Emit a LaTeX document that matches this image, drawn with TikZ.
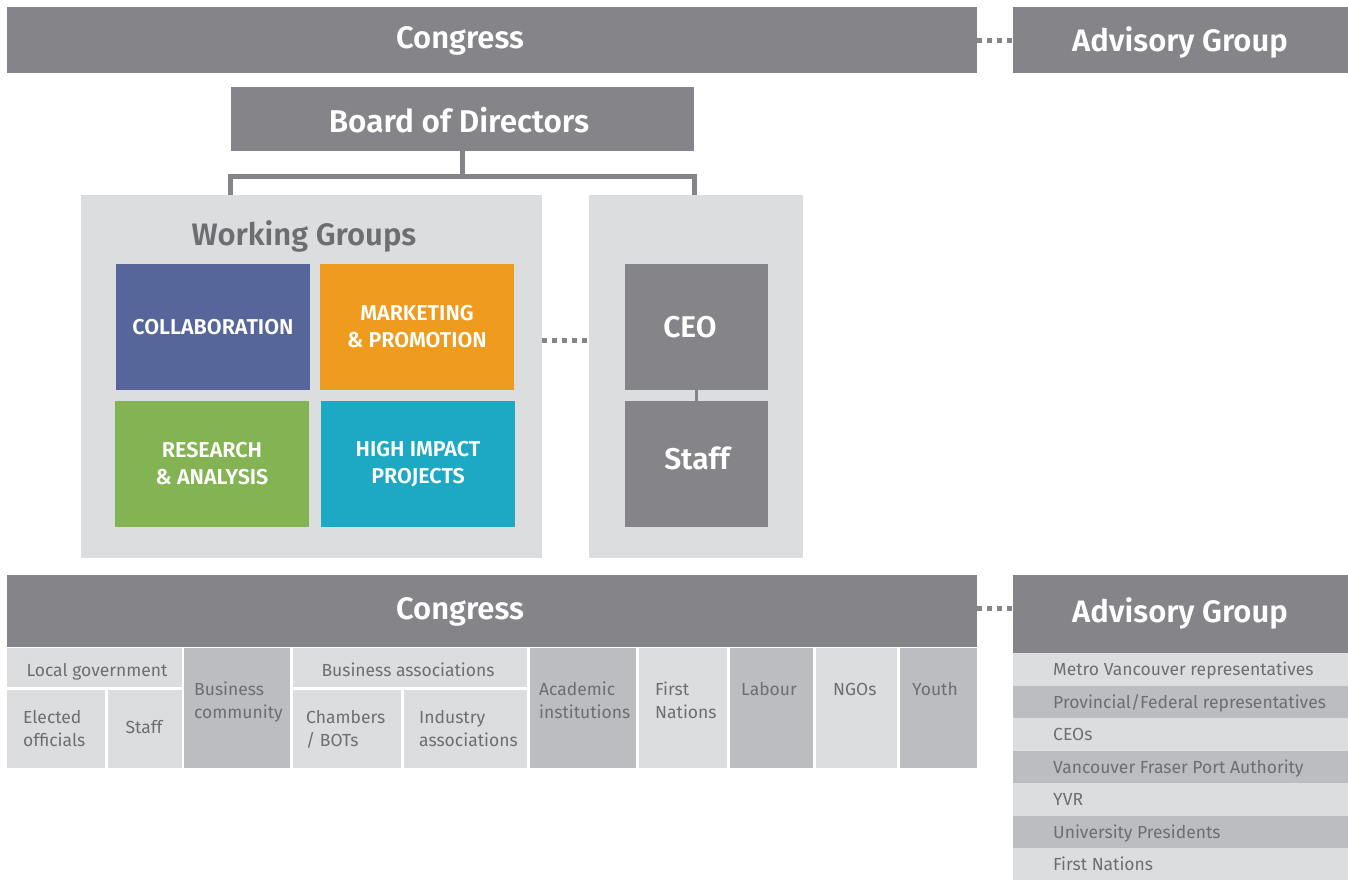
\documentclass[tikz,border=0pt]{standalone}
\usepackage{fontspec}
\setmainfont{Fira Sans}[BoldFont={Fira Sans SemiBold}]
\definecolor{bargray}{RGB}{133,132,137}
\definecolor{panelgray}{RGB}{220,221,223}
\definecolor{cellgray}{RGB}{188,189,192}
\definecolor{textgray}{RGB}{109,110,113}
\definecolor{wgblue}{RGB}{87,102,154}
\definecolor{wgorange}{RGB}{238,155,30}
\definecolor{wggreen}{RGB}{132,179,83}
\definecolor{wgteal}{RGB}{29,168,195}

\begin{document}
\begin{tikzpicture}[x=1pt,y=-1pt]

\tikzset{bar/.style = {fill=bargray, inner sep=0}}
\tikzset{title/.style = {text=white, inner sep=0, anchor=base, font=\bfseries\fontsize{31}{36}\selectfont}}
\tikzset{panel/.style = {fill=panelgray, inner sep=0}}
\tikzset{group/.style = {text=white, inner sep=0, minimum width=194, minimum height=126, align=center, font=\bfseries\fontsize{21.5}{27}\selectfont}}
\tikzset{cell/.style = {fill=panelgray, inner sep=0}}
\tikzset{cellb/.style = {cell, fill=cellgray}}
\tikzset{txt/.style = {text=textgray, inner sep=0, align=left, anchor=base west, font=\fontsize{17.5}{23}\selectfont}}
\tikzset{tree/.style = {draw=bargray, line width=5}}
\tikzset{dots/.style = {draw=bargray, line width=5, dash pattern=on 5 off 5}}

\useasboundingbox (0,0) rectangle (1348,879);

%top bars
\node[bar, minimum width=970, minimum height=66] (congress) at (492,40) {};
\node[bar, minimum width=335, minimum height=66] (adv) at (1180.5,40) {};
\node[bar, minimum width=463, minimum height=64] (board) at (462.5,119) {};
\node[title] (congresstext) at (460,48.5) {Congress};
\node[title] (advtext) at (1180,51) {Advisory Group};
\node[title, font=\bfseries\fontsize{31.5}{36}\selectfont] (boardtext) at (459,132.5) {Board of Directors};

%panels
\node[panel, minimum width=461, minimum height=363] (wg) at (311.5,376.5) {};
\node[panel, minimum width=214, minimum height=363] (ceop) at (696,376.5) {};
\node[title, text=textgray] (wgtitle) at (304,245) {Working Groups};
\node[group, fill=wgblue] (collab) at (213,327) {COLLABORATION};
\node[group, fill=wgorange] (market) at (417,327) {MARKETING\\\& PROMOTION};
\node[group, fill=wggreen] (research) at (212,464) {RESEARCH\\\& ANALYSIS};
\node[group, fill=wgteal] (impact) at (418,464) {HIGH IMPACT\\PROJECTS};
\node[bar, minimum width=143, minimum height=126] (ceo) at (696.5,327) {};
\node[bar, minimum width=143, minimum height=126] (staff) at (696.5,464) {};
\node[title, font=\bfseries\fontsize{30}{36}\selectfont] (ceotext) at (690,337) {CEO};
\node[title, font=\bfseries\fontsize{30}{36}\selectfont] (stafftext) at (697,469) {Staff};

%bottom bars
\node[bar, minimum width=970, minimum height=72] (congress2) at (492,611) {};
\node[bar, minimum width=335, minimum height=78] (adv2) at (1180.5,614) {};
\node[title] (congress2text) at (460,619) {Congress};
\node[title] (adv2text) at (1180,622) {Advisory Group};

%congress members
\node[cell, minimum width=174.5, minimum height=39] (locgov) at (94.25,667.5) {};
\node[cell, minimum width=98, minimum height=78] (elected) at (56,729) {};
\node[cell, minimum width=73.5, minimum height=78] (lstaff) at (144.75,729) {};
\node[cellb, minimum width=106, minimum height=120] (buscom) at (237,708) {};
\node[cell, minimum width=234, minimum height=39] (busassoc) at (410,667.5) {};
\node[cell, minimum width=108, minimum height=78] (chambers) at (347,729) {};
\node[cell, minimum width=123, minimum height=78] (industry) at (465.5,729) {};
\node[cellb, minimum width=106, minimum height=120] (academic) at (583,708) {};
\node[cell, minimum width=88, minimum height=120] (fnations) at (683,708) {};
\node[cellb, minimum width=83, minimum height=120] (labour) at (771.5,708) {};
\node[cell, minimum width=81, minimum height=120] (ngos) at (856.5,708) {};
\node[cellb, minimum width=77, minimum height=120] (youth) at (938.5,708) {};

\node[txt, anchor=base] (locgovtext) at (97,676) {Local government};
\node[txt, anchor=base] (busassoctext) at (408,676) {Business associations};
\node[txt, anchor=base] (lstafftext) at (144,733) {Staff};
\node[txt] (electedtext) at (23,746) {Elected\\officials};
\node[txt] (buscomtext) at (194,718) {Business\\community};
\node[txt] (chamberstext) at (306,746) {Chambers\\/ BOTs};
\node[txt] (industrytext) at (419,746) {Industry\\associations};
\node[txt] (academictext) at (539,718) {Academic\\institutions};
\node[txt] (fnationstext) at (655,718) {First\\Nations};
\node[txt] (labourtext) at (741,695) {Labour};
\node[txt] (ngostext) at (833,695) {NGOs};
\node[txt] (youthtext) at (912,695) {Youth};

%advisory members
\foreach \name [count=\i from 0] in {Metro Vancouver representatives, Provincial/Federal representatives, CEOs, Vancouver Fraser Port Authority, YVR, University Presidents, First Nations}{
  \ifodd\i \def\shade{cellgray}\else\def\shade{panelgray}\fi
  \node[fill=\shade, inner sep=0, minimum width=335, minimum height=32.5] (row\i) at (1180.5,669.25+32.5*\i) {};
  \node[txt] (rowtext\i) at (1053,675.5+32.5*\i) {\name};
}

%connectors
\coordinate (fork) at (462.5,176);
\draw[tree] (board.south) -- (fork);
\draw[tree] (wg.north -| board.west) |- (fork) -| (ceop.north -| board.east);
\draw[draw=bargray, line width=3] (ceo.south) -- (staff.north);
\draw[dots] (congress.east) -- (adv.west);
\draw[dots] ([yshift=3pt]congress2.east) -- ([yshift=3pt]congress2.east -| adv2.west);
\draw[dots] ([yshift=36pt]wg.east) -- ([yshift=36pt]ceop.west);

\end{tikzpicture}
\end{document}
